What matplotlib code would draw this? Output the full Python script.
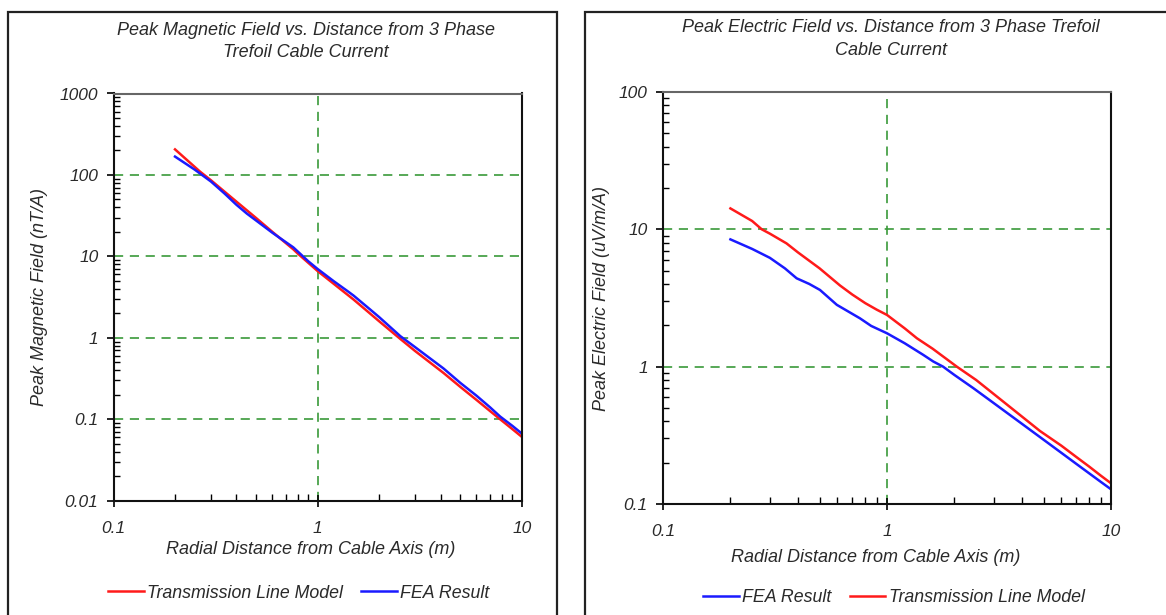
import matplotlib
matplotlib.use("Agg")
import matplotlib.pyplot as plt
from matplotlib.patches import Rectangle
from matplotlib.ticker import LogLocator, NullFormatter, FixedLocator, FixedFormatter

plt.rcParams['font.family'] = ['Liberation Sans', 'DejaVu Sans']
plt.rcParams['font.style'] = 'italic'

# ---------------- data ----------------
# Left panel: peak magnetic field (nT/A)
mag_tl_x = [0.2, 0.265, 0.3, 0.4, 0.5, 0.6, 0.76, 0.8, 1.0, 1.5, 2.0, 2.54, 3.0, 4.14, 5.0, 6.0, 7.0, 7.84, 9.0, 10.0]
mag_tl_y = [206, 110, 86, 47, 29.5, 20, 12.2, 10.8, 6.6, 2.95, 1.6, 0.97, 0.69, 0.37, 0.25, 0.173, 0.126, 0.1, 0.0757, 0.061]
mag_fea_x = [0.2, 0.25, 0.3, 0.35, 0.4, 0.45, 0.5, 0.6, 0.76, 0.9, 1.0, 1.2, 1.4, 1.5, 1.8, 2.0, 2.54, 3.0, 4.14, 5.0, 6.0, 7.0, 7.84, 9.0, 10.0]
mag_fea_y = [168, 116, 83, 59, 43, 33.5, 27.5, 19.5, 12.9, 8.7, 7.0, 4.95, 3.75, 3.3, 2.25, 1.8, 1.05, 0.77, 0.42, 0.28, 0.195, 0.14, 0.108, 0.083, 0.067]

# Right panel: peak electric field (uV/m/A)
ele_fea_x = [0.2, 0.25, 0.3, 0.35, 0.395, 0.45, 0.502, 0.597, 0.757, 0.85, 1.0, 1.2, 1.45, 1.61, 1.78, 2.0, 2.43, 3.0, 4.0, 4.82, 6.0, 7.0, 8.0, 9.0, 10.0]
ele_fea_y = [8.45, 7.2, 6.2, 5.2, 4.4, 4.0, 3.62, 2.82, 2.25, 1.98, 1.75, 1.48, 1.22, 1.09, 1.0, 0.87, 0.697, 0.542, 0.384, 0.307, 0.236, 0.196, 0.167, 0.145, 0.128]
ele_tl_x = [0.2, 0.25, 0.276, 0.3, 0.356, 0.4, 0.5, 0.617, 0.7, 0.8, 0.9, 1.0, 1.2, 1.36, 1.6, 2.05, 2.5, 3.42, 4.82, 6.0, 7.0, 8.0, 9.0, 10.0]
ele_tl_y = [14.2, 11.5, 10.0, 9.3, 7.9, 6.8, 5.2, 3.9, 3.35, 2.9, 2.6, 2.38, 1.9, 1.61, 1.35, 1.0, 0.8, 0.532, 0.34, 0.266, 0.22, 0.187, 0.161, 0.1415]

x_ticks = [0.1, 1, 10]
x_tick_labels = ['0.1', '1', '10']
mag_y_ticks = [0.01, 0.1, 1, 10, 100, 1000]
mag_y_labels = ['0.01', '0.1', '1', '10', '100', '1000']
ele_y_ticks = [0.1, 1, 10, 100]
ele_y_labels = ['0.1', '1', '10', '100']

W, H = 1166, 615
fig = plt.figure(figsize=(W / 100, H / 100), dpi=100)

TXT = '#2a2a2a'
GRID = '#3a9a3a'
FS = 13


def fx(px):
    return px / W


def fy(py):
    return 1 - py / H


def style_axes(ax, yticks, ylabels, ylim):
    ax.set_xscale('log')
    ax.set_yscale('log')
    ax.set_xlim(0.1, 10)
    ax.set_ylim(*ylim)
    ax.xaxis.set_major_locator(FixedLocator(x_ticks))
    ax.xaxis.set_major_formatter(FixedFormatter(x_tick_labels))
    ax.yaxis.set_major_locator(FixedLocator(yticks))
    ax.yaxis.set_major_formatter(FixedFormatter(ylabels))
    ax.xaxis.set_minor_locator(LogLocator(base=10, subs=range(2, 10)))
    ax.yaxis.set_minor_locator(LogLocator(base=10, subs=range(2, 10)))
    ax.xaxis.set_minor_formatter(NullFormatter())
    ax.yaxis.set_minor_formatter(NullFormatter())
    ax.tick_params(axis='y', which='major', direction='out', length=5, width=1.2,
                   pad=6, labelsize=12.5, labelcolor=TXT)
    ax.tick_params(axis='y', which='minor', direction='in', length=4, width=1.0)
    ax.tick_params(axis='x', which='major', direction='inout', length=9, width=1.2,
                   pad=10, labelsize=12.5, labelcolor=TXT)
    ax.tick_params(axis='x', which='minor', direction='in', length=5, width=1.0)
    ax.grid(True, which='major', color=GRID, linestyle=(0, (5.5, 4)), linewidth=1.2)
    for s in ('left', 'bottom', 'right'):
        ax.spines[s].set_color('#111111')
        ax.spines[s].set_linewidth(1.5)
    ax.spines['top'].set_color('#666666')
    ax.spines['top'].set_linewidth(1.5)
    ax.set_axisbelow(True)
    for lab in ax.get_xticklabels() + ax.get_yticklabels():
        lab.set_style('italic')


# ---------- left panel ----------
fig.patches.append(Rectangle((fx(8), fy(640)), fx(557 - 8), fy(12) - fy(640),
                             transform=fig.transFigure, fill=False,
                             edgecolor='#222222', linewidth=1.6))
axL = fig.add_axes([fx(113.6), fy(500.7), fx(521.7 - 113.6), fy(93.5) - fy(500.7)])
style_axes(axL, mag_y_ticks, mag_y_labels, (0.01, 1000))
l1, = axL.plot(mag_tl_x, mag_tl_y, color='#ff1a1a', linewidth=1.8, label='Transmission Line Model')
l2, = axL.plot(mag_fea_x, mag_fea_y, color='#1a1aff', linewidth=1.8, label='FEA Result')
fig.text(fx(306), fy(41.5), 'Peak Magnetic Field vs. Distance from 3 Phase\nTrefoil Cable Current',
         ha='center', va='center', fontsize=FS, color=TXT, style='italic', linespacing=1.45)
fig.text(fx(40), fy(297), 'Peak Magnetic Field (nT/A)', rotation=90, ha='center', va='center',
         fontsize=FS, color=TXT, style='italic')
fig.text(fx(311), fy(550), 'Radial Distance from Cable Axis (m)', ha='center', va='center',
         fontsize=FS, color=TXT, style='italic')
fig.legend(handles=[l1, l2], loc='center', bbox_to_anchor=(fx(299), fy(593)), ncol=2,
           frameon=False, fontsize=12.8, handlelength=2.0, handletextpad=0.2,
           columnspacing=1.0, labelcolor=TXT)

# ---------- right panel ----------
fig.patches.append(Rectangle((fx(585), fy(640)), fx(1200 - 585), fy(12) - fy(640),
                             transform=fig.transFigure, fill=False,
                             edgecolor='#222222', linewidth=1.6))
axR = fig.add_axes([fx(663), fy(504), fx(1111 - 663), fy(92) - fy(504)])
style_axes(axR, ele_y_ticks, ele_y_labels, (0.1, 100))
r1, = axR.plot(ele_fea_x, ele_fea_y, color='#1a1aff', linewidth=1.8, label='FEA Result')
r2, = axR.plot(ele_tl_x, ele_tl_y, color='#ff1a1a', linewidth=1.8, label='Transmission Line Model')
fig.text(fx(891), fy(39), 'Peak Electric Field vs. Distance from 3 Phase Trefoil\nCable Current',
         ha='center', va='center', fontsize=FS, color=TXT, style='italic', linespacing=1.45)
fig.text(fx(601), fy(298), 'Peak Electric Field (uV/m/A)', rotation=90, ha='center', va='center',
         fontsize=FS, color=TXT, style='italic')
fig.text(fx(876), fy(557), 'Radial Distance from Cable Axis (m)', ha='center', va='center',
         fontsize=FS, color=TXT, style='italic')
fig.legend(handles=[r1, r2], loc='center', bbox_to_anchor=(fx(894), fy(598)), ncol=2,
           frameon=False, fontsize=12.8, handlelength=2.0, handletextpad=0.2,
           columnspacing=1.0, labelcolor=TXT)

fig.savefig('out.png', dpi=100)
